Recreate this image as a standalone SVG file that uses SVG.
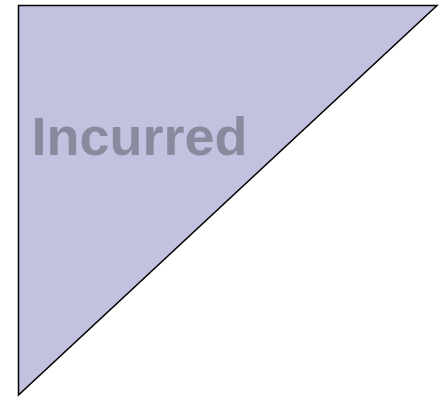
<svg xmlns="http://www.w3.org/2000/svg" width="441" height="398" viewBox="0 0 441 398">
<style>
.tri{fill:#c2c2e0;stroke:#000;stroke-width:1.5}
.lbl{font-family:"Liberation Sans",Arial,sans-serif;font-weight:bold;font-size:54px;fill:#8a8a9e}
</style>
<rect width="441" height="398" fill="#fff"/>
<g id="incurred">
<polygon class="tri" points="18.5,5.5 437,5.5 18.5,395"/>
<text class="lbl" x="31.5" y="155">Incurred</text>
</g>
</svg>
